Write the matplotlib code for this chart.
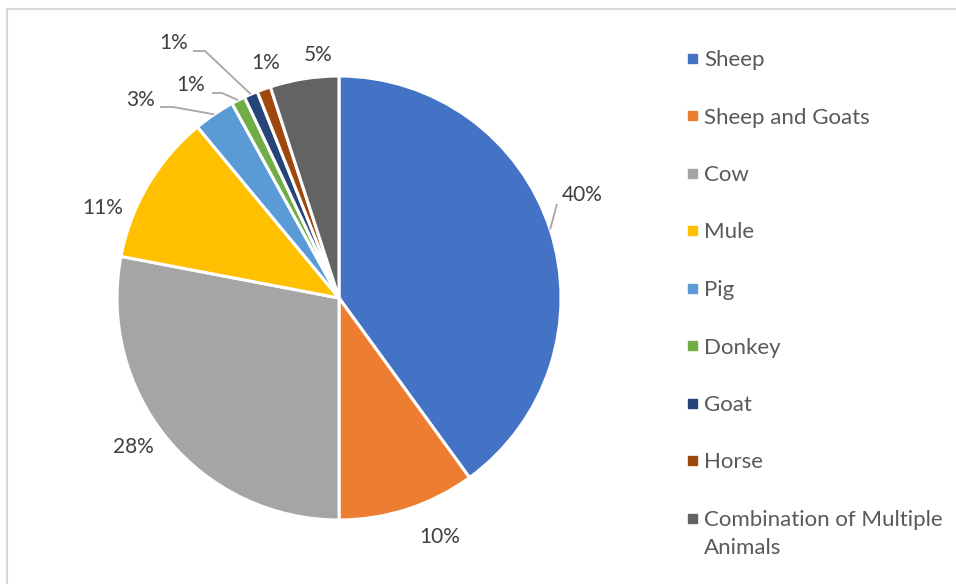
import numpy as np
import matplotlib.pyplot as plt
from matplotlib.patches import Rectangle

# Share of reported cases by animal (%)
animals = ["Sheep", "Sheep and Goats", "Cow", "Mule", "Pig", "Donkey",
           "Goat", "Horse", "Combination of Multiple\nAnimals"]
shares = [40, 10, 28, 11, 3, 1, 1, 1, 5]
colors = ["#4472C4", "#ED7D31", "#A5A5A5", "#FFC000", "#5B9BD5",
          "#70AD47", "#264478", "#9E480E", "#636363"]

W, H = 956, 584
cx, cy, R = 339, 298, 222          # pie centre / radius in pixels (y down)

# where each percentage label sits (pixels, y down)
label_pos = [(582, 195), (440, 537), (133, 447), (103, 208), (141, 100),
             (191, 85), (174, 43), (266, 63), (318, 55)]
# elbow points of the leader lines, ending on the wedge edge
leaders = {0: [(557, 204)], 4: [(160, 107), (173, 107)],
           5: [(212, 93), (222, 93)], 6: [(193, 51), (205, 51)]}

plt.rcParams['font.family'] = ['Lato', 'DejaVu Sans']

fig = plt.figure(figsize=(W / 100, H / 100), dpi=100)
ax = fig.add_axes([0, 0, 1, 1])
ax.pie(shares, colors=colors, startangle=90, counterclock=False,
       center=(cx, H - cy), radius=R,
       wedgeprops=dict(edgecolor="white", linewidth=2.2))
ax.set_xlim(0, W)
ax.set_ylim(0, H)
ax.set_aspect("equal")
ax.axis("off")

# mid-angle of every wedge, clockwise from 12 o'clock
cum = np.cumsum(shares) - np.array(shares) / 2
mid = np.deg2rad(cum / sum(shares) * 360)

for i, (s, (lx, ly)) in enumerate(zip(shares, label_pos)):
    ax.text(lx, H - ly, f"{s}%", ha="center", va="center",
            fontsize=15, color="#404040")
    if i in leaders:
        ex = cx + R * np.sin(mid[i])
        ey = cy - R * np.cos(mid[i])
        pts = leaders[i] + [(ex, ey)]
        ax.plot([p[0] for p in pts], [H - p[1] for p in pts],
                color="#A6A6A6", lw=1.3, solid_capstyle="butt")

# legend on the right
for i, (name, c) in enumerate(zip(animals, colors)):
    y = 58 + i * 57.5
    ax.add_patch(Rectangle((688, H - y - 4.5), 9, 9, color=c))
    for k, line in enumerate(name.split("\n")):
        ax.text(704, H - y - 8 - k * 28, line, ha="left", va="baseline",
                fontsize=16, color="#595959")

# light frame of the chart area
fig.add_artist(Rectangle((7 / W, -0.1), 1.2, (H - 9) / H + 0.1,
                         transform=fig.transFigure, fill=False,
                         edgecolor="#D9D9D9", lw=1.5))

fig.savefig("out.png", dpi=100)
